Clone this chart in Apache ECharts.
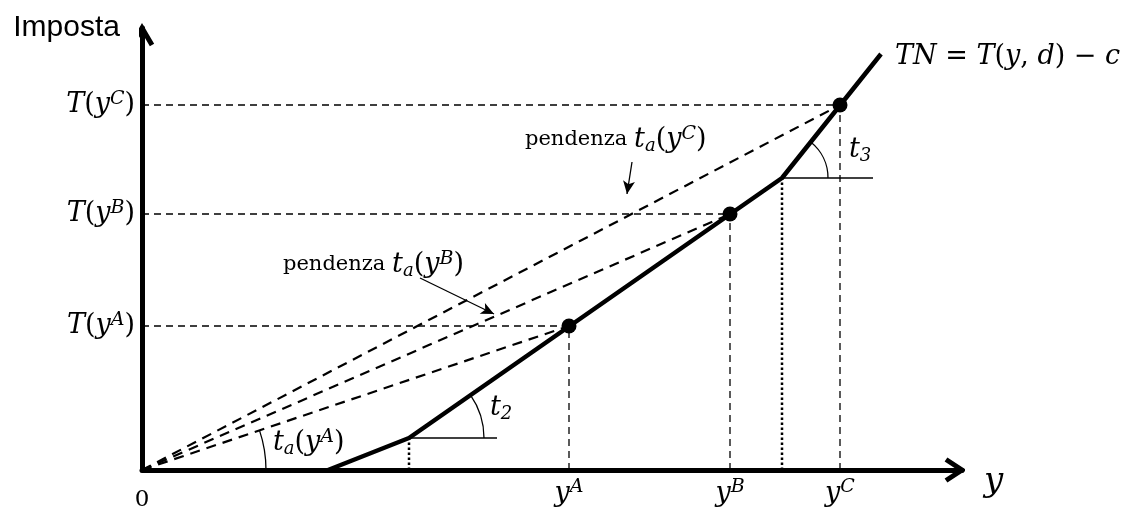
<!DOCTYPE html>
<html>
<head>
<meta charset="utf-8">
<script src="https://cdn.jsdelivr.net/npm/echarts@6/dist/echarts.min.js"></script>
<style>
  html, body { margin: 0; padding: 0; background: #fff; }
  #chart { width: 1131px; height: 508px; }
</style>
</head>
<body>
<div id="chart"></div>
<script>
// vertici della funzione TN = T(y,d) - c  (reddito, imposta)
var tnX = [18.6, 26.7, 64.0, 73.9];
var tnY = [0, 3.2, 29.2, 41.6];

// punti A, B, C sulla funzione
var ptNames = ['A', 'B', 'C'];
var ptX = [42.7, 58.8, 69.8];
var ptY = [14.4, 25.6, 36.5];

// etichette degli assi
var xTickVals = [0, 42.7, 58.8, 69.8];
var yTickVals = [14.4, 25.6, 36.5];

var SERIF = 'DejaVu Serif';
var mathRich = {
    it: { fontFamily: SERIF, fontStyle: 'italic', fontSize: 27, lineHeight: 31, color: '#000' },
    n: { fontFamily: SERIF, fontSize: 27, lineHeight: 31, color: '#000' },
    sup: { fontFamily: SERIF, fontStyle: 'italic', fontSize: 19, lineHeight: 20, verticalAlign: 'top', color: '#000' },
    sub: { fontFamily: SERIF, fontStyle: 'italic', fontSize: 18, lineHeight: 17, verticalAlign: 'bottom', color: '#000' },
    rm: { fontFamily: SERIF, fontSize: 21, lineHeight: 31, color: '#000' },
    zero: { fontFamily: SERIF, fontSize: 23, lineHeight: 34, verticalAlign: 'bottom', color: '#000' }
};

var myChart = echarts.init(document.getElementById('chart'));

function seg(x1, y1, x2, y2) { return [[x1, y1], [x2, y2]]; }

var series = [];

// linee tratteggiate orizzontali, verticali e raggi dall'origine
for (var i = 0; i < ptX.length; i++) {
    series.push({
        type: 'line', data: seg(0, ptY[i], ptX[i], ptY[i]), symbol: 'none', silent: true,
        lineStyle: { color: '#000', width: 1.3, type: [7, 5] }
    });
    series.push({
        type: 'line', data: seg(ptX[i], 0, ptX[i], ptY[i]), symbol: 'none', silent: true,
        lineStyle: { color: '#000', width: 1.3, type: [7, 5] }
    });
    series.push({
        type: 'line', data: seg(0, 0, ptX[i], ptY[i]), symbol: 'none', silent: true,
        lineStyle: { color: '#000', width: 2.2, type: [10, 7] }
    });
}

// linee punteggiate ai punti di cambio aliquota
[1, 2].forEach(function (k) {
    series.push({
        type: 'line', data: seg(tnX[k], 0, tnX[k], tnY[k]), symbol: 'none', silent: true,
        lineStyle: { color: '#000', width: 2.5, type: [2.5, 2.5] }
    });
});

// basi orizzontali degli angoli t2 e t3
series.push({
    type: 'line', data: seg(tnX[1], tnY[1], 35.5, tnY[1]), symbol: 'none', silent: true,
    lineStyle: { color: '#000', width: 1.3 }
});
series.push({
    type: 'line', data: seg(tnX[2], tnY[2], 73.1, tnY[2]), symbol: 'none', silent: true,
    lineStyle: { color: '#000', width: 1.3 }
});

// funzione TN
series.push({
    name: 'TN', type: 'line', symbol: 'none', z: 5,
    data: tnX.map(function (x, i) { return [x, tnY[i]]; }),
    lineStyle: { color: '#000', width: 4.5, join: 'round' },
    // frecce "pendenza"
    markLine: {
        silent: true, symbol: ['none', 'arrow'], symbolSize: [9, 13],
        label: { show: false },
        lineStyle: { color: '#000', width: 1.3, type: 'solid' },
        data: [
            [{ coord: [49.0, 30.8] }, { coord: [48.5, 27.6] }],
            [{ coord: [27.8, 19.2] }, { coord: [35.2, 15.6] }]
        ]
    }
});

// punti A, B, C
series.push({
    type: 'scatter', z: 6, symbolSize: 15, itemStyle: { color: '#000', opacity: 1 },
    data: ptX.map(function (x, i) { return [x, ptY[i]]; })
});

// punte delle frecce degli assi
series.push({
    type: 'line', symbol: 'none', clip: false, z: 4,
    data: [[80.4, 1.05], [82, 0], [80.4, -1.05]],
    lineStyle: { color: '#000', width: 5, join: 'miter', cap: 'butt' }
});
series.push({
    type: 'line', symbol: 'none', clip: false, z: 4,
    data: [[-1.0, 42.5], [0, 44.2], [1.0, 42.5]],
    lineStyle: { color: '#000', width: 5, join: 'miter', cap: 'butt' }
});

var option = {
    backgroundColor: '#fff',
    animation: false,
    grid: { left: 142, right: 169, top: 28, bottom: 38, outerBoundsMode: 'none', containLabel: false },
    xAxis: {
        type: 'value', min: 0, max: 82,
        name: 'y', nameLocation: 'end', nameGap: 22,
        nameTextStyle: { fontFamily: SERIF, fontStyle: 'italic', fontSize: 34, lineHeight: 24, color: '#000', verticalAlign: 'top' },
        axisLine: { show: true, onZero: false, lineStyle: { color: '#000', width: 5 } },
        axisTick: { show: false },
        splitLine: { show: false },
        axisLabel: {
            customValues: xTickVals, margin: 8, rich: mathRich,
            formatter: function (v) {
                var i = ptX.indexOf(v);
                return i < 0 ? '{zero|0}' : '{it|y}{sup|' + ptNames[i] + '}';
            }
        }
    },
    yAxis: {
        type: 'value', min: 0, max: 44.2,
        name: 'Imposta', nameLocation: 'end', nameGap: 0,
        nameTextStyle: { fontFamily: 'Liberation Sans', fontSize: 30, color: '#000', align: 'right', verticalAlign: 'middle', padding: [0, 22, 0, 0] },
        axisLine: { show: true, onZero: false, lineStyle: { color: '#000', width: 5 } },
        axisTick: { show: false },
        splitLine: { show: false },
        axisLabel: {
            customValues: yTickVals, margin: 7, rich: mathRich,
            formatter: function (v) {
                var i = ptY.indexOf(v);
                return '{it|T}{n|(}{it|y}{sup|' + ptNames[i] + '}{n|)}';
            }
        }
    },
    series: series
};

myChart.setOption(option);

// archi degli angoli e testi
function px(p) { return myChart.convertToPixel({ gridIndex: 0 }, p); }
function ang(a, b) { return Math.atan2(a[1] - b[1], b[0] - a[0]); }

var o = px([0, 0]);
var pA = px([ptX[0], ptY[0]]);
var k2 = px([tnX[1], tnY[1]]);
var k3 = px([tnX[2], tnY[2]]);
var kEnd = px([tnX[3], tnY[3]]);

function arc(c, r, a) {
    return {
        type: 'arc', silent: true,
        shape: { cx: c[0], cy: c[1], r: r, startAngle: -a, endAngle: 0, clockwise: true },
        style: { stroke: '#000', lineWidth: 1.3, fill: null }
    };
}
function txt(x, y, t) {
    return {
        type: 'text', x: x, y: y, silent: true,
        style: { text: t, rich: mathRich, verticalAlign: 'middle', align: 'left' }
    };
}

myChart.setOption({
    graphic: [
        arc(o, 124, ang(o, pA)),
        arc(k2, 75, ang(k2, k3)),
        arc(k3, 46, ang(k3, kEnd)),
        txt(895, 57, '{it|TN}{n| = }{it|T}{n|(}{it|y}{n|, }{it|d}{n|) − }{it|c}'),
        txt(525, 140, '{rm|pendenza }{it|t}{sub|a}{n|(}{it|y}{sup|C}{n|)}'),
        txt(283, 265, '{rm|pendenza }{it|t}{sub|a}{n|(}{it|y}{sup|B}{n|)}'),
        txt(273, 443, '{it|t}{sub|a}{n|(}{it|y}{sup|A}{n|)}'),
        txt(490, 408, '{it|t}{sub|2}'),
        txt(849, 150, '{it|t}{sub|3}')
    ]
});
</script>
</body>
</html>
